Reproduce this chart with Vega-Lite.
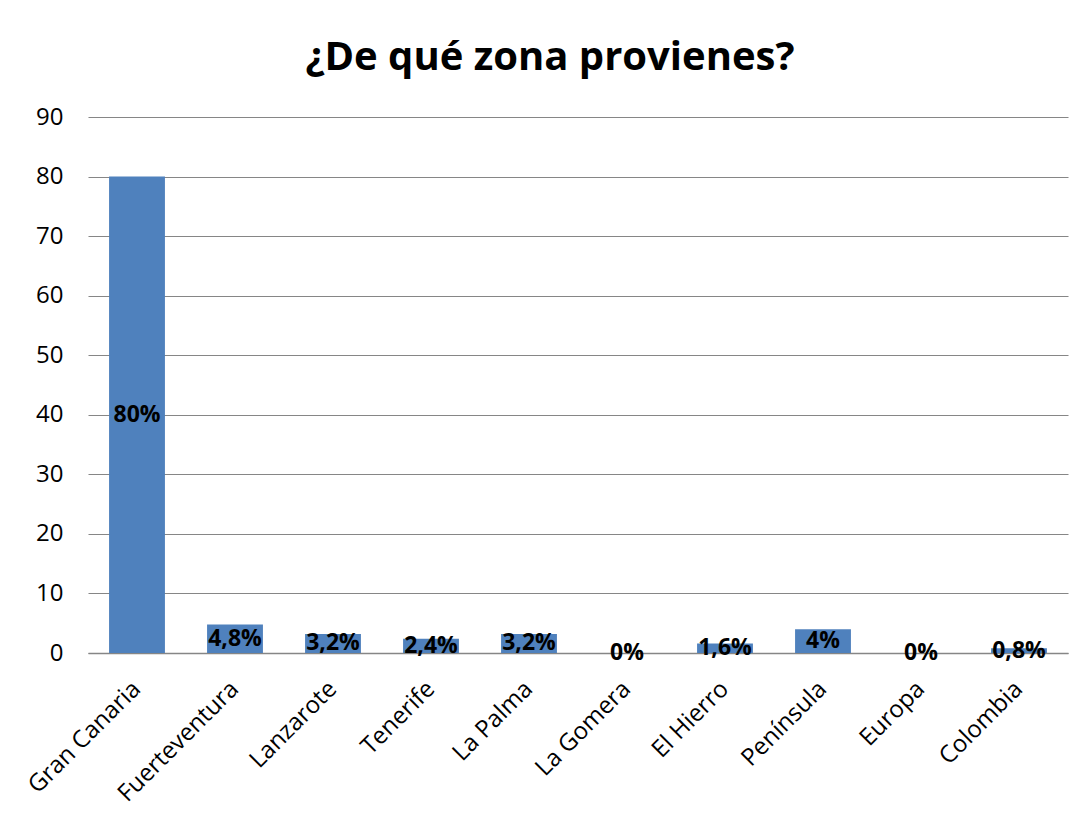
{
  "$schema": "https://vega.github.io/schema/vega-lite/v6.json",
  "width": 980,
  "height": 536,
  "autosize": {"type": "none"},
  "padding": {"left": 88, "top": 117, "right": 23, "bottom": 185},
  "background": "white",
  "title": {
    "text": "¿De qué zona provienes?",
    "font": "Open Sans",
    "fontSize": 40,
    "fontWeight": "bold",
    "color": "black",
    "anchor": "middle",
    "baseline": "alphabetic",
    "offset": -5,
    "dx": -28
  },
  "data": {
    "values": [
      {"zona": "Gran Canaria", "value": 80, "label": "80%"},
      {"zona": "Fuerteventura", "value": 4.8, "label": "4,8%"},
      {"zona": "Lanzarote", "value": 3.2, "label": "3,2%"},
      {"zona": "Tenerife", "value": 2.4, "label": "2,4%"},
      {"zona": "La Palma", "value": 3.2, "label": "3,2%"},
      {"zona": "La Gomera", "value": 0, "label": "0%"},
      {"zona": "El Hierro", "value": 1.6, "label": "1,6%"},
      {"zona": "Península", "value": 4, "label": "4%"},
      {"zona": "Europa", "value": 0, "label": "0%"},
      {"zona": "Colombia", "value": 0.8, "label": "0,8%"}
    ]
  },
  "encoding": {
    "x": {
      "field": "zona",
      "type": "nominal",
      "sort": null,
      "scale": {"paddingInner": 0.43, "paddingOuter": 0.215},
      "axis": {
        "title": null,
        "labelAngle": -45,
        "labelAlign": "right",
        "labelBaseline": "middle",
        "labelFont": "Open Sans",
        "labelFontSize": 24,
        "labelColor": "black",
        "labelPadding": 32,
        "ticks": false,
        "domain": true,
        "domainColor": "#868686",
        "domainWidth": 1.5
      }
    }
  },
  "layer": [
    {
      "mark": {"type": "bar", "color": "#4F81BD"},
      "encoding": {
        "y": {
          "field": "value",
          "type": "quantitative",
          "scale": {"domain": [0, 90], "nice": false},
          "axis": {
            "title": null,
            "values": [0, 10, 20, 30, 40, 50, 60, 70, 80, 90],
            "ticks": false,
            "domain": false,
            "grid": true,
            "gridColor": "#868686",
            "gridWidth": 1.2,
            "labelFont": "Open Sans",
            "labelFontSize": 24,
            "labelColor": "black",
            "labelPadding": 25
          }
        }
      }
    },
    {
      "transform": [{"calculate": "datum.value / 2", "as": "mid"}],
      "mark": {
        "type": "text",
        "font": "Open Sans",
        "fontSize": 23,
        "fontWeight": "bold",
        "color": "black",
        "align": "center",
        "baseline": "middle"
      },
      "encoding": {
        "y": {"field": "mid", "type": "quantitative", "scale": {"domain": [0, 90], "nice": false}},
        "text": {"field": "label"}
      }
    }
  ],
  "config": {"view": {"stroke": null}}
}
